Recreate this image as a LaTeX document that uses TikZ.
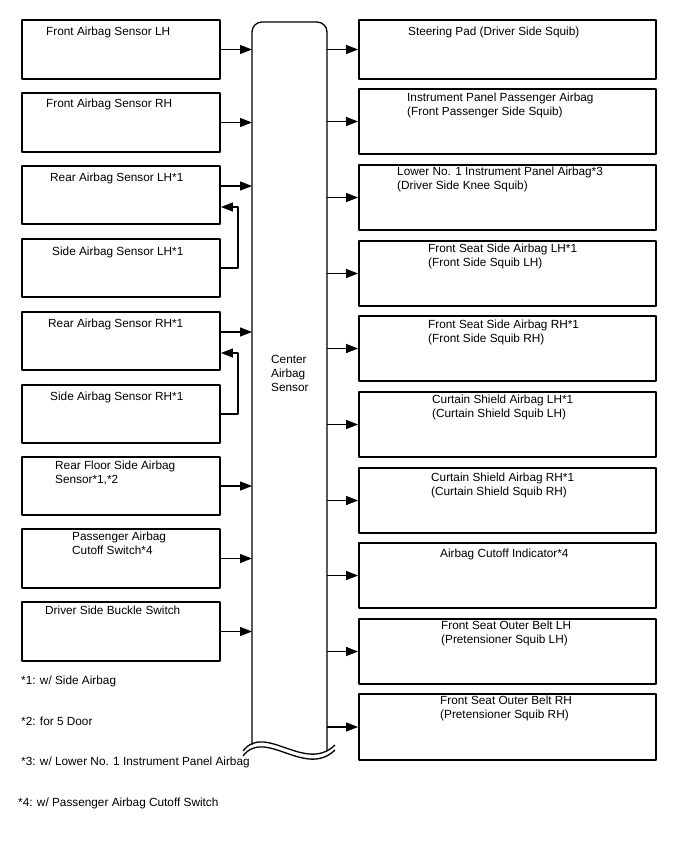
\documentclass[tikz,border=0pt]{standalone}
\usepackage{fontspec}
\setmainfont{Liberation Sans}
\usetikzlibrary{arrows.meta}
\begin{document}
\begin{tikzpicture}[x=1pt, y=-1pt, font=\fontsize{11.8}{14}\selectfont, line join=round, >={Triangle[length=12pt,width=9pt]},
	lbox/.style={draw, line width=1.9pt, minimum width=198pt, minimum height=58.5pt, inner sep=0pt},
	rbox/.style={draw, line width=1.9pt, minimum width=297pt, minimum height=#1, inner sep=0pt},
	txt/.style={anchor=north west, inner sep=0pt, align=left},
	link/.style={line width=1.3pt}]
	\useasboundingbox (0,0) rectangle (688,852);
	%	\draw[color=gray!30] (0,0) grid[step=50] (688,852);
	\def\xl{121} \def\xr{507.5}
	\def\ecuW{252} \def\ecuE{327}
	\coordinate (ecuW) at (\ecuW,0);
	\coordinate (ecuE) at (\ecuE,0);
	% center airbag sensor
	\draw[link, rounded corners=10pt] (\ecuW,745) -- (\ecuW,22) -- (\ecuE,22) -- (\ecuE,751);
	\draw[link] (243,751) .. controls (265,722) and (305,774) .. (335,745);
	\draw[link] (243,756) .. controls (265,727) and (305,779) .. (335,750);
	\node[txt] (ecu) at (271,355) {Center\\Airbag\\Sensor};
	% sensors
	\foreach \n/\y/\tx/\ty/\t in {1/49.5/46/27/{Front Airbag Sensor LH},
		2/122.5/46/99/{Front Airbag Sensor RH},
		3/195/50/173/{Rear Airbag Sensor LH*1},
		4/268/52/247/{Side Airbag Sensor LH*1},
		5/341/48/319/{Rear Airbag Sensor RH*1},
		6/414/50/392/{Side Airbag Sensor RH*1},
		7/486/55/461/{Rear Floor Side Airbag\\Sensor*1,*2},
		8/558.5/72/532/{Passenger Airbag\\Cutoff Switch*4},
		9/631.5/45/606/{Driver Side Buckle Switch}}{
		\node[lbox] (l\n) at (\xl,\y) {};
		\node[txt] (lt\n) at (\tx,\ty) {\t};
	}
	% squibs
	\foreach \n/\y/\h/\tx/\ty/\t in {1/49.5/59/408/27/{Steering Pad (Driver Side Squib)},
		2/121.5/65/407/93/{Instrument Panel Passenger Airbag\\(Front Passenger Side Squib)},
		3/197.5/65/397/167/{Lower No. 1 Instrument Panel Airbag*3\\(Driver Side Knee Squib)},
		4/273.5/65/428/244/{Front Seat Side Airbag LH*1\\(Front Side Squib LH)},
		5/348.5/65/428/320/{Front Seat Side Airbag RH*1\\(Front Side Squib RH)},
		6/424.5/65/432/395/{Curtain Shield Airbag LH*1\\(Curtain Shield Squib LH)},
		7/500.5/65/431/473/{Curtain Shield Airbag RH*1\\(Curtain Shield Squib RH)},
		8/575.5/65/440/549/{Airbag Cutoff Indicator*4},
		9/651.5/65/441/621/{Front Seat Outer Belt LH\\(Pretensioner Squib LH)},
		10/727/66/440/696/{Front Seat Outer Belt RH\\(Pretensioner Squib RH)}}{
		\node[rbox=\h pt] (r\n) at (\xr,\y) {};
		\node[txt] (rt\n) at (\tx,\ty) {\t};
	}
	% connections
	\foreach \n in {1,2,7,8,9} \draw[link,->] (l\n.east) -- (l\n.east -| ecuW);
	\foreach \n in {3,5} \draw[link,->] ([yshift=9pt]l\n.east) -- ([yshift=9pt]l\n.east -| ecuW);
	\draw[link,->] (l4.east) -- ++(17,0) |- ([yshift=-12pt]l3.east);
	\draw[link,->] (l6.east) -- ++(17,0) |- ([yshift=-12pt]l5.east);
	\foreach \n in {1,...,10} \draw[link,->] (r\n.west -| ecuE) -- (r\n.west);
	% notes
	\node[txt] (n1) at (21,676) {*1: w/ Side Airbag};
	\node[txt] (n2) at (21,717) {*2: for 5 Door};
	\node[txt] (n3) at (21,757) {*3: w/ Lower No. 1 Instrument Panel Airbag};
	\node[txt] (n4) at (18,798) {*4: w/ Passenger Airbag Cutoff Switch};
\end{tikzpicture}
\end{document}
